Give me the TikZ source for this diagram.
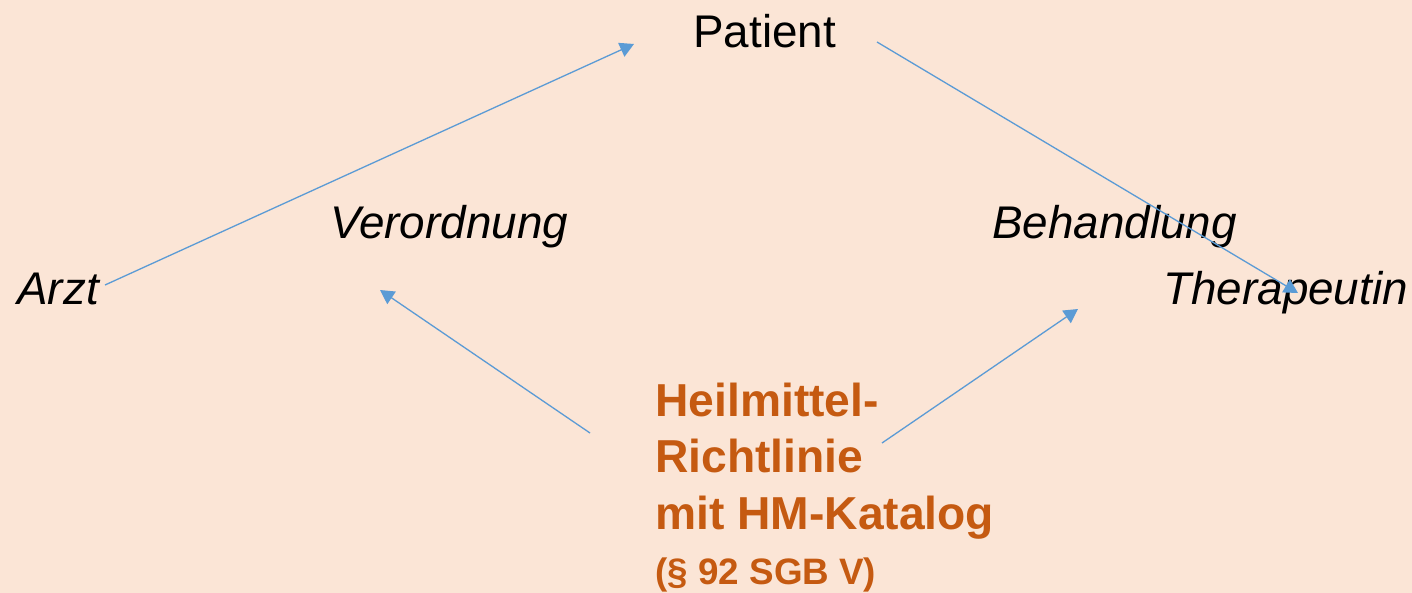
\documentclass[tikz,border=0pt]{standalone}
\usepackage{fontspec}
\setmainfont{Liberation Sans}
\usetikzlibrary{arrows.meta}
\definecolor{bgpeach}{HTML}{FBE5D6}
\definecolor{arrowblue}{HTML}{5B9BD5}
\definecolor{rulorange}{HTML}{C55A11}
\begin{document}
\begin{tikzpicture}[x=0.5pt,y=-0.5pt,
  lbl/.style={inner sep=0pt,anchor=base west,font=\fontsize{22.9}{27}\selectfont},
  ilbl/.style={lbl,font=\fontsize{22.9}{27}\selectfont\itshape},
  olbl/.style={inner sep=0pt,anchor=base west,text=rulorange,font=\fontsize{23.1}{28}\selectfont\bfseries},
  slbl/.style={inner sep=0pt,anchor=base west,text=rulorange,font=\fontsize{18.4}{22}\selectfont\bfseries},
  conn/.style={draw=arrowblue,line width=0.65pt,-{Triangle[length=7pt,width=7.5pt]}}]
\fill[bgpeach] (0,0) rectangle (1412,593);
\useasboundingbox (0,0) rectangle (1412,593);
\node[lbl] (patient) at (693,48) {Patient};
\node[ilbl] (verordnung) at (330,239) {Verordnung};
\node[ilbl] (behandlung) at (992,239) {Behandlung};
\node[ilbl] (arzt) at (17,304) {Arzt};
\node[ilbl] (therapeutin) at (1163,304) {Therapeutin};
\node[olbl] (hm1) at (655,416) {Heilmittel-};
\node[olbl] (hm2) at (655,472) {Richtlinie};
\node[olbl] (hm3) at (655,529) {mit HM-Katalog};
\node[slbl] (hm4) at (655,584) {(§ 92 SGB V)};
\coordinate (a1s) at (105,285);
\coordinate (a1e) at (634,44);
\coordinate (a2s) at (877,42);
\coordinate (a2e) at (1298,293);
\coordinate (a3s) at (590,433);
\coordinate (a3e) at (380,290);
\coordinate (a4s) at (882,443);
\coordinate (a4e) at (1078,309);
\draw[conn] (a1s) -- (a1e);
\draw[conn] (a2s) -- (a2e);
\draw[conn] (a3s) -- (a3e);
\draw[conn] (a4s) -- (a4e);
\end{tikzpicture}
\end{document}
